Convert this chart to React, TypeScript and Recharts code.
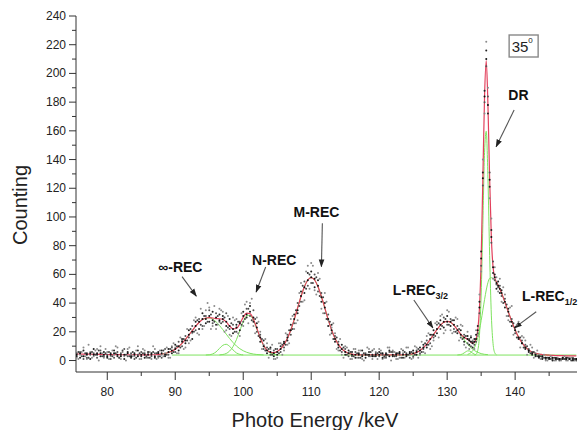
import React from 'react';
import { ComposedChart, Line, Scatter, XAxis, YAxis, ReferenceLine, ReferenceDot } from 'recharts';

// photon energy grid (keV), finer around the DR line
const energy = [
  75, 75.5, 76, 76.5, 77, 77.5, 78, 78.5, 79, 79.5,
  80, 80.5, 81, 81.5, 82, 82.5, 83, 83.5, 84, 84.5,
  85, 85.5, 86, 86.5, 87, 87.5, 88, 88.5, 89, 89.5,
  90, 90.5, 91, 91.5, 92, 92.5, 93, 93.5, 94, 94.5,
  95, 95.5, 96, 96.5, 97, 97.5, 98, 98.5, 99, 99.5,
  100, 100.5, 101, 101.5, 102, 102.5, 103, 103.5, 104, 104.5,
  105, 105.5, 106, 106.5, 107, 107.5, 108, 108.5, 109, 109.5,
  110, 110.5, 111, 111.5, 112, 112.5, 113, 113.5, 114, 114.5,
  115, 115.5, 116, 116.5, 117, 117.5, 118, 118.5, 119, 119.5,
  120, 120.5, 121, 121.5, 122, 122.5, 123, 123.5, 124, 124.5,
  125, 125.5, 126, 126.5, 127, 127.5, 128, 128.5, 129, 129.5,
  130, 130.5, 131, 131.5, 132, 132.5, 133,
  133.25, 133.5, 133.75, 134, 134.25, 134.5, 134.75, 135, 135.25, 135.5,
  135.75, 136, 136.25, 136.5, 136.75, 137, 137.25, 137.5, 137.75, 138,
  138.5, 139, 139.5, 140, 140.5, 141, 141.5, 142, 142.5, 143,
  143.5, 144, 144.5, 145, 145.5, 146, 146.5, 147, 147.5, 148,
  148.5, 149,
];

// total fit (red curve)
const fitCounts = [
  4.6, 4.6, 4.5, 4.5, 4.4, 4.4, 4.3, 4.3, 4.2, 4.2,
  4.2, 4.1, 4.1, 4.1, 4.0, 4.0, 4.0, 4.0, 4.0, 4.0,
  3.9, 3.9, 3.9, 4.0, 4.0, 4.2, 4.4, 4.9, 5.6, 6.5,
  7.9, 9.7, 12.0, 14.7, 17.7, 20.8, 23.9, 26.5, 28.5, 29.6,
  29.9, 29.6, 29.2, 29.1, 28.7, 26.9, 24.1, 22.0, 22.3, 25.7,
  30.1, 33.0, 32.7, 28.7, 22.5, 15.9, 10.6, 7.2, 5.7, 5.5,
  6.3, 8.1, 11.1, 15.5, 21.3, 28.5, 36.6, 44.6, 51.4, 56.1,
  57.8, 56.1, 51.4, 44.6, 36.6, 28.5, 21.3, 15.5, 11.1, 8.1,
  6.2, 5.0, 4.4, 4.1, 3.9, 3.9, 3.9, 3.9, 3.9, 3.9,
  3.9, 3.9, 3.9, 3.9, 3.9, 3.9, 3.9, 4.0, 4.1, 4.3,
  4.8, 5.7, 7.0, 8.9, 11.4, 14.6, 18.1, 21.5, 24.5, 26.6,
  27.3, 26.6, 24.5, 21.5, 18.4, 16.2, 14.8,
  13.9, 12.8, 12.1, 12.7, 15.0, 21.1, 36.4, 70.6, 126.7, 183.9,
  209, 177.7, 126.6, 85.6, 65.2, 57.7, 54.7, 52.4, 49.9, 47.0,
  40.6, 33.8, 27.3, 21.3, 16.3, 12.4, 9.5, 7.3, 5.9, 5.0,
  4.5, 4.2, 3.9, 3.7, 3.6, 3.5, 3.4, 3.4, 3.3, 3.3,
  3.2, 3.2,
];

// measured counts, four passes over the main grid
const countsA = [
  6, 3, 2, 7, 5, 1, 8, 4, 3, 6,
  2, 5, 7, 3, 4, 1, 6, 2, 5, 7,
  3, 2, 6, 4, 2, 6, 7, 3, 8, 5,
  11, 7, 15, 12, 21, 15, 27, 22, 33, 26,
  27, 34, 25, 32, 31, 24, 29, 19, 25, 21,
  34, 30, 38, 27, 26, 13, 14, 5, 9, 3,
  4, 10, 13, 14, 25, 32, 33, 48, 47, 61,
  62, 51, 56, 41, 40, 24, 25, 13, 9, 11,
  4, 7, 6, 2, 5, 7, 2, 6, 4, 3,
  6, 2, 5, 7, 3, 5, 6, 2, 3, 6,
  7, 4, 9, 11, 9, 18, 21, 19, 28, 23,
  31, 24, 28, 19, 21, 13, 17,
  11, 16, 9, 15, 18, 24, 41, 76, 131, 188,
  216, 172, 121, 91, 61, 60, 50, 55, 47, 49,
  37, 36, 24, 23, 15, 12, 8, 6, 4, 3,
  2, 1, 2, 1, 0, 2, 1, 1, 2, 1,
  0, 1,
];
const countsB = [
  3, 5, 6, 1, 2, 4, 5, 2, 7, 3,
  4, 1, 2, 6, 5, 8, 3, 5, 1, 4,
  6, 5, 2, 3, 5, 3, 2, 8, 4, 9,
  6, 13, 10, 17, 16, 24, 21, 29, 24, 31,
  35, 26, 33, 27, 27, 33, 22, 25, 20, 27,
  27, 36, 31, 35, 20, 18, 8, 9, 4, 7,
  8, 6, 9, 18, 18, 26, 40, 41, 55, 52,
  54, 60, 48, 47, 33, 32, 19, 17, 13, 6,
  8, 3, 3, 6, 2, 4, 5, 3, 7, 5,
  3, 4, 2, 6, 6, 3, 4, 7, 5, 2,
  3, 7, 5, 8, 14, 12, 16, 25, 22, 30,
  25, 29, 22, 24, 16, 18, 12,
  15, 10, 13, 11, 13, 19, 33, 66, 122, 180,
  205, 184, 131, 82, 69, 56, 53, 51, 52, 45,
  43, 31, 29, 19, 20, 14, 11, 8, 6, 4,
  3, 2, 1, 2, 1, 1, 0, 2, 1, 1,
  2, 0,
];
const countsC = [
  8, 2, 4, 9, 1, 6, 3, 8, 10, 2,
  6, 3, 4, 9, 1, 3, 8, 4, 3, 10,
  1, 7, 5, 1, 8, 2, 4, 5, 2, 10,
  9, 5, 14, 9, 12, 19, 30, 18, 22, 35,
  37, 24, 22, 36, 34, 21, 18, 30, 29, 17,
  24, 41, 40, 24, 30, 20, 11, 12, 8, 1,
  2, 12, 7, 11, 29, 22, 28, 54, 42, 66,
  68, 49, 61, 36, 47, 28, 23, 19, 7, 4,
  10, 5, 1, 8, 7, 1, 4, 8, 1, 6,
  8, 1, 3, 9, 7, 1, 2, 5, 9, 4,
  2, 9, 4, 6, 17, 8, 14, 27, 31, 19,
  35, 21, 20, 29, 25, 11, 20,
  8, 17, 14, 8, 21, 17, 46, 62, 140, 172,
  222, 190, 113, 99, 57, 65, 58, 48, 57, 41,
  46, 28, 38, 21, 27, 17, 14, 7, 9, 5,
  4, 3, 0, 1, 2, 0, 1, 1, 0, 2,
  1, 1,
];
const countsD = [
  5, 4, 5, 3, 4, 5, 4, 5, 5, 4,
  3, 4, 5, 4, 3, 4, 5, 3, 4, 3,
  4, 4, 4, 5, 3, 5, 5, 4, 6, 7,
  8, 10, 13, 14, 18, 20, 24, 27, 29, 29,
  31, 28, 30, 28, 29, 27, 24, 22, 23, 26,
  31, 32, 34, 30, 23, 16, 10, 7, 6, 5,
  6, 8, 12, 16, 21, 29, 35, 45, 51, 56,
  58, 57, 52, 44, 37, 29, 21, 15, 11, 8,
  6, 5, 4, 4, 4, 3, 4, 4, 3, 4,
  4, 5, 4, 3, 4, 4, 5, 4, 4, 5,
  5, 6, 7, 9, 11, 15, 18, 22, 25, 27,
  27, 27, 25, 21, 18, 16, 15,
  14, 13, 12, 13, 15, 21, 37, 71, 127, 184,
  210, 178, 126, 86, 65, 58, 54, 52, 50, 47,
  41, 34, 27, 21, 16, 12, 9, 7, 5, 4,
  3, 3, 2, 2, 2, 1, 1, 2, 1, 1,
  1, 1,
];

// in-between channels (outside the DR region)
const energyMid = [
  75.25, 75.75, 76.25, 76.75, 77.25, 77.75, 78.25, 78.75, 79.25, 79.75,
  80.25, 80.75, 81.25, 81.75, 82.25, 82.75, 83.25, 83.75, 84.25, 84.75,
  85.25, 85.75, 86.25, 86.75, 87.25, 87.75, 88.25, 88.75, 89.25, 89.75,
  90.25, 90.75, 91.25, 91.75, 92.25, 92.75, 93.25, 93.75, 94.25, 94.75,
  95.25, 95.75, 96.25, 96.75, 97.25, 97.75, 98.25, 98.75, 99.25, 99.75,
  100.25, 100.75, 101.25, 101.75, 102.25, 102.75, 103.25, 103.75, 104.25, 104.75,
  105.25, 105.75, 106.25, 106.75, 107.25, 107.75, 108.25, 108.75, 109.25, 109.75,
  110.25, 110.75, 111.25, 111.75, 112.25, 112.75, 113.25, 113.75, 114.25, 114.75,
  115.25, 115.75, 116.25, 116.75, 117.25, 117.75, 118.25, 118.75, 119.25, 119.75,
  120.25, 120.75, 121.25, 121.75, 122.25, 122.75, 123.25, 123.75, 124.25, 124.75,
  125.25, 125.75, 126.25, 126.75, 127.25, 127.75, 128.25, 128.75, 129.25, 129.75,
  130.25, 130.75, 131.25, 131.75, 132.25, 132.75,
  138.25, 138.75, 139.25, 139.75, 140.25, 140.75, 141.25, 141.75, 142.25, 142.75,
  143.25, 143.75, 144.25, 144.75, 145.25, 145.75, 146.25, 146.75, 147.25, 147.75,
  148.25, 148.75,
];
const countsE = [
  9, 1, 6, 3, 11, 2, 7, 0, 5, 8,
  1, 7, 10, 2, 6, 0, 9, 3, 7, 1,
  8, 2, 6, 10, 1, 7, 3, 9, 2, 12,
  5, 16, 8, 22, 14, 28, 19, 36, 24, 40,
  22, 38, 25, 35, 20, 31, 17, 28, 19, 33,
  39, 26, 43, 19, 27, 8, 15, 2, 11, 1,
  12, 4, 19, 12, 31, 26, 47, 41, 62, 50,
  66, 46, 57, 33, 41, 18, 26, 8, 15, 2,
  9, 1, 8, 2, 7, 0, 9, 3, 8, 1,
  7, 2, 9, 0, 6, 1, 8, 2, 9, 1,
  10, 2, 13, 5, 19, 10, 26, 16, 32, 21,
  34, 19, 30, 14, 24, 9,
  51, 31, 37, 18, 25, 9, 16, 4, 11, 2,
  7, 1, 4, 0, 3, 0, 2, 0, 3, 0,
  2, 0,
];
const countsF = [
  4, 6, 3, 5, 2, 6, 4, 7, 3, 5,
  6, 3, 5, 2, 7, 4, 3, 6, 2, 5,
  5, 3, 2, 6, 5, 3, 7, 4, 8, 6,
  10, 9, 15, 14, 22, 20, 28, 25, 31, 27,
  32, 27, 31, 26, 30, 23, 26, 20, 27, 25,
  29, 36, 28, 29, 17, 15, 7, 8, 4, 8,
  5, 11, 11, 21, 22, 35, 38, 52, 50, 60,
  54, 58, 45, 44, 29, 27, 15, 16, 7, 9,
  4, 6, 3, 5, 2, 5, 4, 6, 3, 5,
  5, 3, 4, 6, 3, 5, 2, 6, 4, 6,
  4, 8, 6, 12, 11, 18, 17, 26, 24, 29,
  25, 28, 20, 22, 15, 17,
  40, 39, 27, 26, 16, 16, 9, 10, 5, 6,
  3, 3, 2, 2, 1, 2, 1, 1, 1, 2,
  0, 1,
];

// fitted components (green)
const bgEnergy = [89.5, 149];
const bgCounts = [3.8, 3.8];
const infEnergy = [88, 89, 90, 91, 92, 93, 94, 95, 96, 97, 98, 99, 100, 101, 102, 103];
const infCounts = [4.4, 5.6, 7.9, 12.0, 17.7, 23.9, 28.5, 29.7, 27.0, 21.5, 15.3, 10.1, 6.8, 5.0, 4.2, 3.9];
const midEnergy = [94.5, 95, 95.5, 96, 96.5, 97, 97.5, 98, 98.5, 99, 99.5, 100];
const midCounts = [3.85, 4.0, 4.6, 6.0, 8.4, 10.6, 11.3, 9.8, 7.4, 5.3, 4.3, 3.9];
const nEnergy = [96.5, 97, 97.5, 98, 98.5, 99, 99.5, 100, 100.5, 101, 101.5, 102, 102.5, 103, 103.5, 104, 104.5, 105];
const nCounts = [3.9, 4.2, 4.9, 6.6, 9.7, 14.5, 20.8, 27.0, 31.1, 31.5, 28.0, 22.1, 15.7, 10.5, 7.0, 5.1, 4.3, 3.9];
const mEnergy = [104, 104.5, 105, 105.5, 106, 106.5, 107, 107.5, 108, 108.5, 109, 109.5, 110, 110.5, 111, 111.5, 112, 112.5, 113, 113.5, 114, 114.5, 115, 115.5, 116];
const mCounts = [4.4, 5.0, 6.2, 8.1, 11.1, 15.5, 21.3, 28.5, 36.6, 44.6, 51.4, 56.1, 57.8, 56.1, 51.4, 44.6, 36.6, 28.5, 21.3, 15.5, 11.1, 8.1, 6.2, 5.0, 4.4];
const l32Energy = [124, 124.5, 125, 125.5, 126, 126.5, 127, 127.5, 128, 128.5, 129, 129.5, 130, 130.5, 131, 131.5, 132, 132.5, 133, 133.5, 134, 134.5, 135, 135.5, 136];
const l32Counts = [4.1, 4.3, 4.8, 5.7, 7.0, 8.9, 11.4, 14.6, 18.1, 21.5, 24.5, 26.6, 27.3, 26.6, 24.5, 21.5, 18.1, 14.6, 11.4, 8.9, 7.0, 5.7, 4.8, 4.3, 4.1];
const satEnergy = [131.5, 132, 132.5, 132.75, 133, 133.25, 133.5, 133.75, 134, 134.25];
const satCounts = [3.85, 4.1, 5.3, 6.1, 6.7, 6.7, 6.0, 5.1, 4.4, 4.0];
const drEnergy = [134, 134.25, 134.5, 134.75, 135, 135.25, 135.5, 135.75, 136, 136.25, 136.5, 136.75, 137, 137.25];
const drCounts = [3.85, 4.3, 7.0, 17.5, 45.6, 94.7, 144.8, 159.7, 126.9, 73.1, 31.6, 11.8, 5.4, 4.0];
const l12Energy = [
  133, 133.25, 133.5, 133.75, 134, 134.25, 134.5, 134.75, 135, 135.25, 135.5, 135.75,
  136, 136.25, 136.5, 136.75, 137, 137.25, 137.5, 137.75, 138, 138.5, 139, 139.5,
  140, 140.5, 141, 141.5, 142, 142.5, 143, 143.5, 144, 144.5, 145,
];
const l12Counts = [
  4.25, 4.7, 5.5, 6.8, 8.8, 11.8, 16.0, 21.3, 27.8, 35.1, 42.4, 49.1,
  54.3, 57.3, 57.7, 57.2, 56.1, 54.5, 52.4, 49.9, 47.0, 40.6, 33.8, 27.3,
  21.3, 16.3, 12.4, 9.5, 7.3, 5.9, 5.0, 4.5, 4.2, 4.0, 3.9,
];

const xTicks = [80, 85, 90, 95, 100, 105, 110, 115, 120, 125, 130, 135, 140, 145];
const yTicks = [0, 10, 20, 30, 40, 50, 60, 70, 80, 90, 100, 110, 120, 130, 140, 150, 160, 170, 180, 190, 200, 210, 220, 230, 240];

const FONT = '"Liberation Sans", Arial, Helvetica, sans-serif';
const AXIS = '#333';

const toPoints = (xs: number[], ys: number[]) => xs.map((x, i) => ({ x, y: ys[i] }));

const fitData = toPoints(energy, fitCounts);
const dotSets = [
  { data: toPoints(energyMid, countsE), fill: '#8c8c8c' },
  { data: toPoints(energy, countsC), fill: '#8a8a8a' },
  { data: toPoints(energyMid, countsF), fill: '#444' },
  { data: toPoints(energy, countsB), fill: '#555' },
  { data: toPoints(energy, countsA), fill: '#222' },
  { data: toPoints(energy, countsD), fill: '#111' },
];
const components = [
  toPoints(bgEnergy, bgCounts),
  toPoints(infEnergy, infCounts),
  toPoints(midEnergy, midCounts),
  toPoints(nEnergy, nCounts),
  toPoints(mEnergy, mCounts),
  toPoints(l32Energy, l32Counts),
  toPoints(satEnergy, satCounts),
  toPoints(l12Energy, l12Counts),
  toPoints(drEnergy, drCounts),
];

// peak labels and arrows, in data units
const notes = [
  { x: 87.5, y: 61.7, text: '∞-REC' },
  { x: 101.3, y: 66.5, text: 'N-REC' },
  { x: 107.4, y: 100, text: 'M-REC' },
  { x: 139.0, y: 181.5, text: 'DR' },
  { x: 122.0, y: 45.6, text: 'L-REC', sub: '3/2' },
  { x: 141.0, y: 41.5, text: 'L-REC', sub: '1/2' },
];
const arrows = [
  [{ x: 91.0, y: 58.4 }, { x: 93.1, y: 44.9 }],
  [{ x: 103.3, y: 65.1 }, { x: 101.9, y: 47.7 }],
  [{ x: 111.64, y: 95.6 }, { x: 111.5, y: 65.4 }],
  [{ x: 139.85, y: 174.5 }, { x: 137.2, y: 148.9 }],
  [{ x: 125.1, y: 42.2 }, { x: 127.9, y: 22.7 }],
  [{ x: 143.1, y: 34.0 }, { x: 139.9, y: 22.7 }],
];

const YTick = (props: any) => {
  const { x, y, payload } = props;
  const major = payload.value % 20 === 0;
  return (
    <g>
      <line x1={x - (major ? 7 : 4)} x2={x} y1={y} y2={y} stroke={AXIS} strokeWidth={1} />
      {major && (
        <text x={x - 10} y={y + 4} textAnchor="end" fontSize={12} fill="#222" fontFamily={FONT}>
          {payload.value}
        </text>
      )}
    </g>
  );
};

const XTick = (props: any) => {
  const { x, y, payload } = props;
  const major = payload.value % 10 === 0;
  return (
    <g>
      <line x1={x} x2={x} y1={y} y2={y + (major ? 8 : 4)} stroke={AXIS} strokeWidth={1} />
      {major && (
        <text x={x} y={y + 24} textAnchor="middle" fontSize={12} fill="#222" fontFamily={FONT}>
          {payload.value}
        </text>
      )}
    </g>
  );
};

const dot = (fill: string) => (p: any) => <circle cx={p.cx} cy={p.cy} r={1} fill={fill} />;

export default function App() {
  return (
    <div style={{ position: 'absolute', left: 0, top: 0, width: 581, height: 430, background: '#fff', fontFamily: FONT }}>
      <svg width={0} height={0} style={{ position: 'absolute' }}>
        <defs>
          <marker id="arrowHead" viewBox="0 0 10 10" refX="9" refY="5" markerWidth="8" markerHeight="8"
            orient="auto" markerUnits="userSpaceOnUse">
            <path d="M0,1.5 L10,5 L0,8.5 z" fill="#222" />
          </marker>
        </defs>
      </svg>
      <ComposedChart width={581} height={430} margin={{ top: 16, right: 4, bottom: 0, left: 0 }}>
        <XAxis
          dataKey="x" type="number" domain={[75.4, 149.1]} allowDataOverflow ticks={xTicks} interval={0}
          height={58} tickSize={0} tickMargin={0} tickLine={false} stroke={AXIS}
          tick={(p: any) => <XTick {...p} />}
        />
        <YAxis
          type="number" domain={[-8, 240]} allowDataOverflow ticks={yTicks} interval={0}
          width={76} tickSize={0} tickMargin={0} tickLine={false} stroke={AXIS}
          tick={(p: any) => <YTick {...p} />}
        />
        {dotSets.map((s, i) => (
          <Scatter key={'d' + i} data={s.data} dataKey="y" isAnimationActive={false} shape={dot(s.fill)} />
        ))}
        {components.map((c, i) => (
          <Line key={'c' + i} data={c} dataKey="y" type="monotone" stroke="#7ee35f" strokeWidth={1}
            dot={false} activeDot={false} isAnimationActive={false} />
        ))}
        <Line data={fitData} dataKey="y" type="monotone" stroke="#e2405c" strokeWidth={1.2}
          dot={false} activeDot={false} isAnimationActive={false} />
        {arrows.map((seg, i) => (
          <ReferenceLine key={'a' + i} segment={seg} ifOverflow="visible"
            shape={(p: any) => (
              <line x1={p.x1} y1={p.y1} x2={p.x2} y2={p.y2} stroke="#555" strokeWidth={1.1} markerEnd="url(#arrowHead)" />
            )}
          />
        ))}
        {notes.map((n, i) => (
          <ReferenceDot key={'n' + i} x={n.x} y={n.y} r={0} ifOverflow="visible"
            shape={(p: any) => (
              <text x={p.cx} y={p.cy} fontSize={14} fontWeight="bold" fill="#111" fontFamily={FONT}>
                {n.text}
                {n.sub && <tspan fontSize={9} dy={4}>{n.sub}</tspan>}
              </text>
            )}
          />
        ))}
        <ReferenceDot x={141.25} y={219.1} r={0} ifOverflow="visible"
          shape={(p: any) => (
            <g>
              <rect x={p.cx - 14.5} y={p.cy - 11} width={29} height={22} fill="#fff" stroke="#888" strokeWidth={1.4} />
              <text x={p.cx - 12} y={p.cy + 6} fontSize={15} fill="#222" fontFamily={FONT}>
                35<tspan fontSize={8} dy={-9}>0</tspan>
              </text>
            </g>
          )}
        />
      </ComposedChart>
      <div style={{ position: 'absolute', left: 315, top: 410, transform: 'translateX(-50%)', fontSize: 20, lineHeight: '20px', color: '#222', whiteSpace: 'nowrap' }}>
        Photo Energy /keV
      </div>
      <div style={{ position: 'absolute', left: 20, top: 205, transform: 'translate(-50%, -50%) rotate(-90deg)', fontSize: 20, lineHeight: '20px', color: '#222', whiteSpace: 'nowrap' }}>
        Counting
      </div>
    </div>
  );
}
